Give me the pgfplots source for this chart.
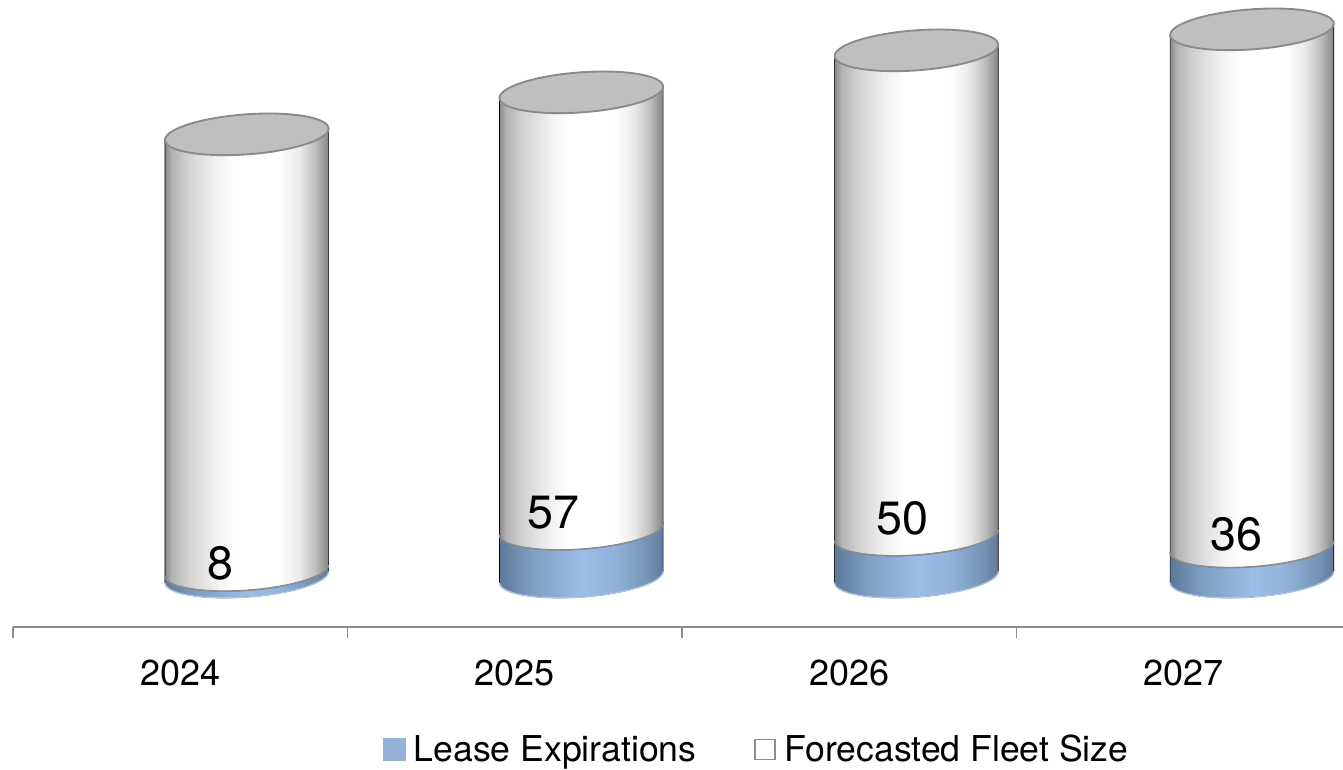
\documentclass[border=0pt]{standalone}
\usepackage{pgfplots}
\usepackage{pgfplotstable}
\usepackage{fontspec}
\pgfplotsset{compat=1.18}
\setmainfont{TeX Gyre Heros}

\definecolor{axisgray}{HTML}{8C8C8C}
\definecolor{capfill}{HTML}{BFBFBF}
\definecolor{capedge}{HTML}{8A8A8A}
\definecolor{leaseblue}{HTML}{95B3D7}
\definecolor{baseblue}{HTML}{A9C6E8}
\definecolor{bluea}{RGB}{93,121,152}
\definecolor{blueb}{RGB}{127,159,196}
\definecolor{bluec}{RGB}{155,189,230}
\definecolor{blued}{RGB}{146,179,218}
\definecolor{bluee}{RGB}{115,144,179}
\definecolor{bluef}{RGB}{94,123,156}

% Cylinder wall shadings; the visible width runs from 25bp to 75bp
\pgfdeclarehorizontalshading{wallwhite}{100bp}{%
  color(0bp)=(black!46);color(25bp)=(black!46);
  color(27bp)=(black!30);color(32bp)=(black!18);color(40bp)=(black!6);
  color(46bp)=(white);color(60bp)=(white);
  color(66bp)=(black!8);color(71bp)=(black!26);
  color(75bp)=(black!48);color(100bp)=(black!48)}
\pgfdeclarehorizontalshading{wallblue}{100bp}{%
  color(0bp)=(bluea);color(25bp)=(bluea);
  color(35bp)=(blueb);color(50bp)=(bluec);
  color(60bp)=(blued);color(71bp)=(bluee);
  color(75bp)=(bluef);color(100bp)=(bluef)}

% Tilted ellipse of a cylinder section, in pt (1 px = 0.75 pt)
\def\capa{61.5}
\def\capb{15}
\def\captilt{4.2}
\def\depthx{49.9}  % sideways offset of the cylinders from the category centre
\def\ptperunit{0.63}
\def\bezk{0.5523}

% Stores a point of the ellipse at parameter #2 with its two Bezier handles
\newcommand{\defellpoint}[2]{%
  \pgfmathsetmacro{\px}{\capa*cos(#2)*cos(\captilt)-\capb*sin(#2)*sin(\captilt)}%
  \pgfmathsetmacro{\py}{\capa*cos(#2)*sin(\captilt)+\capb*sin(#2)*cos(\captilt)}%
  \pgfmathsetmacro{\tx}{-\capa*sin(#2)*cos(\captilt)-\capb*cos(#2)*sin(\captilt)}%
  \pgfmathsetmacro{\ty}{-\capa*sin(#2)*sin(\captilt)+\capb*cos(#2)*cos(\captilt)}%
  \pgfmathsetmacro{\vx}{\px+\depthx}\expandafter\global\expandafter\let\csname ell#1x\endcsname\vx
  \expandafter\global\expandafter\let\csname ell#1y\endcsname\py
  \pgfmathsetmacro{\vx}{\px+\depthx+\bezk*\tx}\expandafter\global\expandafter\let\csname ell#1ox\endcsname\vx
  \pgfmathsetmacro{\vy}{\py+\bezk*\ty}\expandafter\global\expandafter\let\csname ell#1oy\endcsname\vy
  \pgfmathsetmacro{\vx}{\px+\depthx-\bezk*\tx}\expandafter\global\expandafter\let\csname ell#1ix\endcsname\vx
  \pgfmathsetmacro{\vy}{\py-\bezk*\ty}\expandafter\global\expandafter\let\csname ell#1iy\endcsname\vy}
\defellpoint{A}{179}
\defellpoint{B}{269}
\defellpoint{C}{359}
\defellpoint{D}{449}

% Point #1 of the ellipse, lowered by #2 pt
\newcommand{\EP}[2]{(\csname ell#1x\endcsname pt,{\csname ell#1y\endcsname pt-#2pt})}

% Front half of an ellipse from left to right, lowered by #1 pt
\newcommand{\frontarc}[1]{%
  .. controls \EP{Ao}{#1} and \EP{Bi}{#1} .. \EP{B}{#1}
  .. controls \EP{Bo}{#1} and \EP{Ci}{#1} .. \EP{C}{#1}}
% Back half of an ellipse from right to left, lowered by #1 pt
\newcommand{\backarc}[1]{%
  .. controls \EP{Co}{#1} and \EP{Di}{#1} .. \EP{D}{#1}
  .. controls \EP{Do}{#1} and \EP{Ai}{#1} .. \EP{A}{#1}}

% One wall segment whose top section sits at the plotted point
\newcommand{\wallsegment}[3]{%
  \pgfmathsetmacro{\hh}{#1*\ptperunit}%
  \path[shading=#2, shading angle=0]
    \EP{A}{0} -- \EP{A}{\hh} \frontarc{\hh} -- \EP{C}{0} \backarc{0} -- cycle;
  \draw[#3] \EP{A}{\hh} \frontarc{\hh};}

\pgfplotstableread{
x lease fleet
0     8  519
1     57 520
2.002 50 577
3.005 36 616
}\fleetdata

\pgfplotstableread{
lx ly lab
0.120 16.7 8
1.115 76.2 57
2.158 70.2 50
3.158 51.2 36
}\labeldata

\begin{document}
\begin{tikzpicture}[x=1pt,y=1pt]
\path[use as bounding box] (0,0) rectangle (1007.25,576.75);
\begin{axis}[
  at={(9.75pt,106.5pt)},
  /pgf/number format/assume math mode=true,
  anchor=south west,
  x=250.875pt, y=0.63pt,
  scale only axis,
  xmin=-0.5, xmax=3.475,
  ymin=-59.5, ymax=687,
  clip=false,
  axis x line=bottom,
  axis y line=none,
  axis line style={axisgray, line width=1.9pt, -},
  xtick={0,1,2,3},
  xticklabels={2024,2025,2026,2027},
  major tick length=0pt,
  extra x ticks={-0.5,0.5,1.5,2.5},
  extra x tick labels={},
  extra x tick style={
    major tick length=8.5pt,
    tick style={axisgray, line width=1.4pt},
    tick align=outside},
  x tick label style={font=\fontsize{27}{27}\selectfont, yshift=-21.5pt, text=black},
  legend columns=2,
  legend style={
    draw=none, fill=none,
    at={(0.5595,-0.168)}, anchor=north,
    font=\fontsize{26.7}{28}\selectfont,
    /tikz/every even column/.append style={column sep=41.5pt},
    /tikz/every odd column/.append style={column sep=4.3pt},
    legend cell align=left,
    inner sep=0pt},
]
% Lease expirations: lower wall segment
\addplot[forget plot, scatter, only marks, mark=none,
  visualization depends on={\thisrow{lease} \as \seg},
  scatter/@pre marker code/.code={\wallsegment{\seg}{wallblue}{baseblue, line width=1pt}\begin{scope}},
  scatter/@post marker code/.code={\end{scope}},
] table[x=x, y=lease] {\fleetdata};

% Forecasted fleet: upper wall segment stacked on the leases
\addplot[forget plot, scatter, only marks, mark=none,
  visualization depends on={\thisrow{fleet} \as \seg},
  scatter/@pre marker code/.code={\wallsegment{\seg}{wallwhite}{axisgray, line width=1.2pt}\begin{scope}},
  scatter/@post marker code/.code={\end{scope}},
] table[x=x, y expr=\thisrow{lease}+\thisrow{fleet}] {\fleetdata};

% Top caps
\addplot[forget plot, scatter, only marks, mark=none,
  scatter/@pre marker code/.code={%
    \draw[capedge, fill=capfill, line width=1.4pt]
      \EP{A}{0} \frontarc{0} \backarc{0} -- cycle;
    \begin{scope}},
  scatter/@post marker code/.code={\end{scope}},
] table[x=x, y expr=\thisrow{lease}+\thisrow{fleet}] {\fleetdata};

% Lease counts
\addplot[forget plot, only marks, mark=none,
  nodes near coords, point meta=explicit symbolic,
  every node near coord/.append style={anchor=center, font=\fontsize{35}{35}\selectfont, text=black},
] table[x=lx, y=ly, meta=lab] {\labeldata};

\addlegendimage{legend image code/.code={
  \fill[leaseblue] (0pt,-8.3pt) rectangle (16.5pt,8.3pt);}}
\addlegendentry{Lease Expirations}
\addlegendimage{legend image code/.code={
  \draw[axisgray, fill=white, line width=1.1pt] (0.5pt,-7.5pt) rectangle (15.5pt,7.5pt);}}
\addlegendentry{Forecasted Fleet Size}
\end{axis}
\end{tikzpicture}
\end{document}
